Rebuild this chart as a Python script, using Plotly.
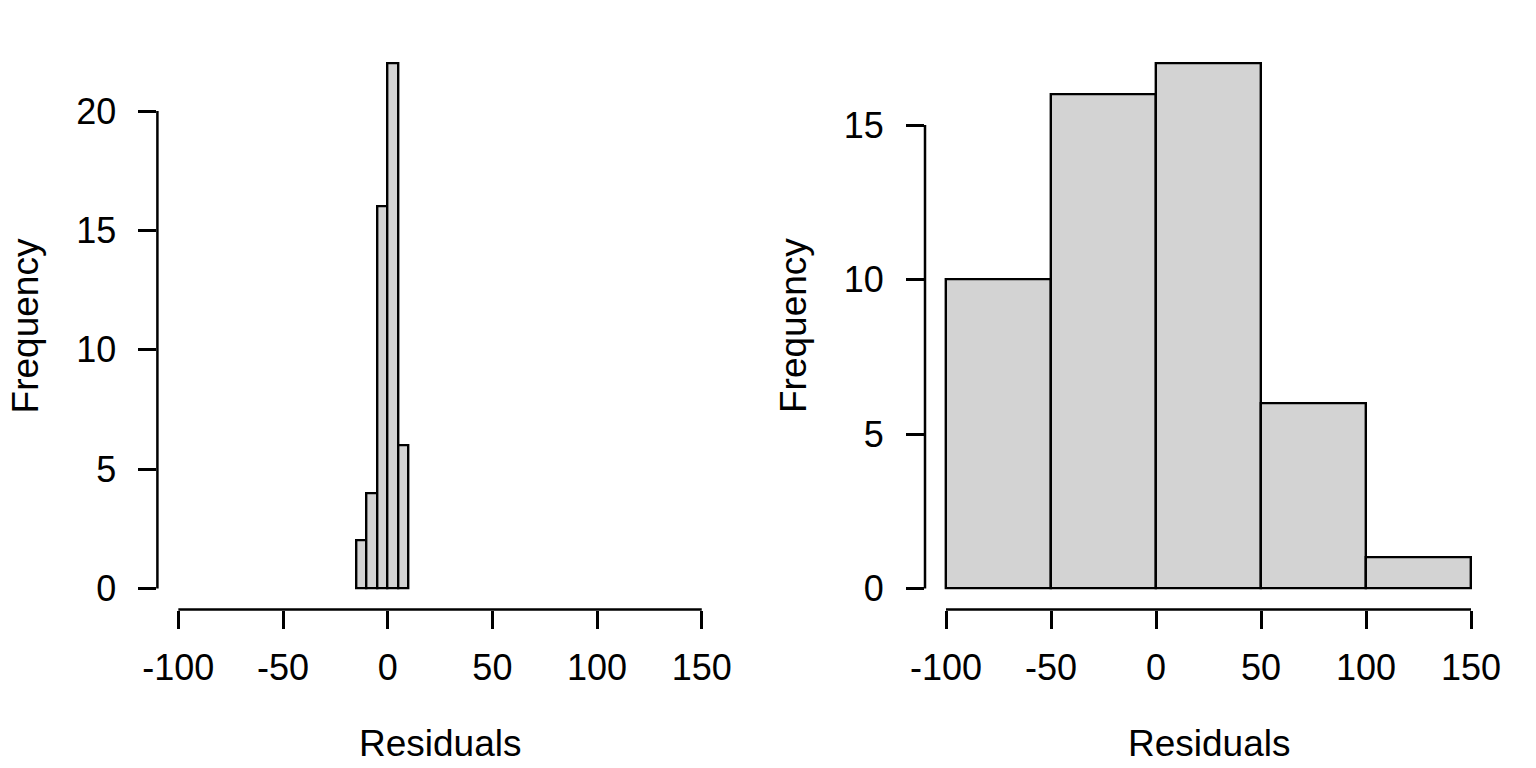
import plotly.graph_objects as go

# left histogram: residuals of the good fit
left_breaks = [-15, -10, -5, 0, 5, 10]
left_counts = [2, 4, 16, 22, 6]
# right histogram: residuals of the poor fit
right_breaks = [-100, -50, 0, 50, 100, 150]
right_counts = [10, 16, 17, 6, 1]

x_ticks = [-100, -50, 0, 50, 100, 150]
left_yticks = [0, 5, 10, 15, 20]
right_yticks = [0, 5, 10, 15]

FONT = 'Liberation Sans, Arial, sans-serif'
FS = 36
BAR_FILL = '#D3D3D3'
LW = 2.5

W, H = 1536, 768


def px_x(p):
    return p / W


def px_y(p):
    return (H - p) / H


def bars(breaks, counts, xa, ya):
    mids = [(a + b) / 2 for a, b in zip(breaks[:-1], breaks[1:])]
    widths = [b - a for a, b in zip(breaks[:-1], breaks[1:])]
    return go.Bar(
        x=mids, y=counts, width=widths, xaxis=xa, yaxis=ya,
        marker={'color': BAR_FILL, 'line': {'color': 'black', 'width': 2.4}},
        showlegend=False, hoverinfo='x+y',
    )


fig = go.Figure([
    bars(left_breaks, left_counts, 'x', 'y'),
    bars(right_breaks, right_counts, 'x2', 'y2'),
])


def xaxis(domain, anchor):
    return {
        'domain': domain, 'anchor': anchor,
        'range': [-110, 160],
        'tickvals': x_ticks, 'ticktext': [str(v) for v in x_ticks],
        'ticks': 'outside', 'ticklen': 18, 'tickwidth': LW, 'tickcolor': 'black',
        'ticklabelstandoff': 8,
        'showline': False, 'showgrid': False, 'zeroline': False,
        'automargin': False,
        'tickfont': {'family': FONT, 'size': FS, 'color': 'black'},
        'fixedrange': True,
    }


def yaxis(domain, anchor, ticks, top):
    span = top * 0.04
    return {
        'domain': domain, 'anchor': anchor,
        'range': [-span, top + span],
        'tickvals': ticks, 'ticktext': [str(v) for v in ticks],
        'ticks': 'outside', 'ticklen': 18, 'tickwidth': LW, 'tickcolor': 'black',
        'ticklabelstandoff': 15,
        'showline': False, 'showgrid': False, 'zeroline': False,
        'automargin': False,
        'tickfont': {'family': FONT, 'size': FS, 'color': 'black'},
        'fixedrange': True,
    }


ydom = [px_y(609.5), px_y(42.3)]
left_dom = [px_x(157.4), px_x(722.7)]
right_dom = [px_x(925), px_x(1492)]

shapes = []
annotations = []
for xr, yr, yt, dom in [('x', 'y', left_yticks, left_dom), ('x2', 'y2', right_yticks, right_dom)]:
    # R-style axis lines spanning only the tick range
    shapes.append({'type': 'line', 'xref': xr, 'yref': yr + ' domain',
                   'x0': x_ticks[0], 'x1': x_ticks[-1], 'y0': 0, 'y1': 0,
                   'line': {'color': 'black', 'width': LW}})
    shapes.append({'type': 'line', 'xref': xr + ' domain', 'yref': yr,
                   'x0': 0, 'x1': 0, 'y0': yt[0], 'y1': yt[-1],
                   'line': {'color': 'black', 'width': LW}})
    annotations.append({'text': 'Residuals', 'xref': xr + ' domain', 'yref': 'paper',
                        'x': 0.5, 'y': px_y(743), 'xanchor': 'center', 'yanchor': 'middle',
                        'showarrow': False, 'font': {'family': FONT, 'size': 37, 'color': 'black'}})
    annotations.append({'text': 'Frequency', 'xref': 'paper', 'yref': 'paper',
                        'x': dom[0] - px_x(132), 'y': px_y(326), 'textangle': -90,
                        'xanchor': 'center', 'yanchor': 'middle',
                        'showarrow': False, 'font': {'family': FONT, 'size': 37, 'color': 'black'}})

fig.update_layout(
    template='none',
    width=W, height=H,
    margin={'l': 0, 'r': 0, 't': 0, 'b': 0, 'pad': 0},
    paper_bgcolor='white', plot_bgcolor='white',
    bargap=0,
    xaxis=xaxis(left_dom, 'y'),
    yaxis=yaxis(ydom, 'x', left_yticks, 22),
    xaxis2=xaxis(right_dom, 'y2'),
    yaxis2=yaxis(ydom, 'x2', right_yticks, 17),
    shapes=shapes,
    annotations=annotations,
    font={'family': FONT, 'size': FS, 'color': 'black'},
)

# drop the browser's default page margin so the figure fills the window exactly
fig.write_html('out.html', config={'displayModeBar': False},
               post_script="document.body.style.margin='0';")
